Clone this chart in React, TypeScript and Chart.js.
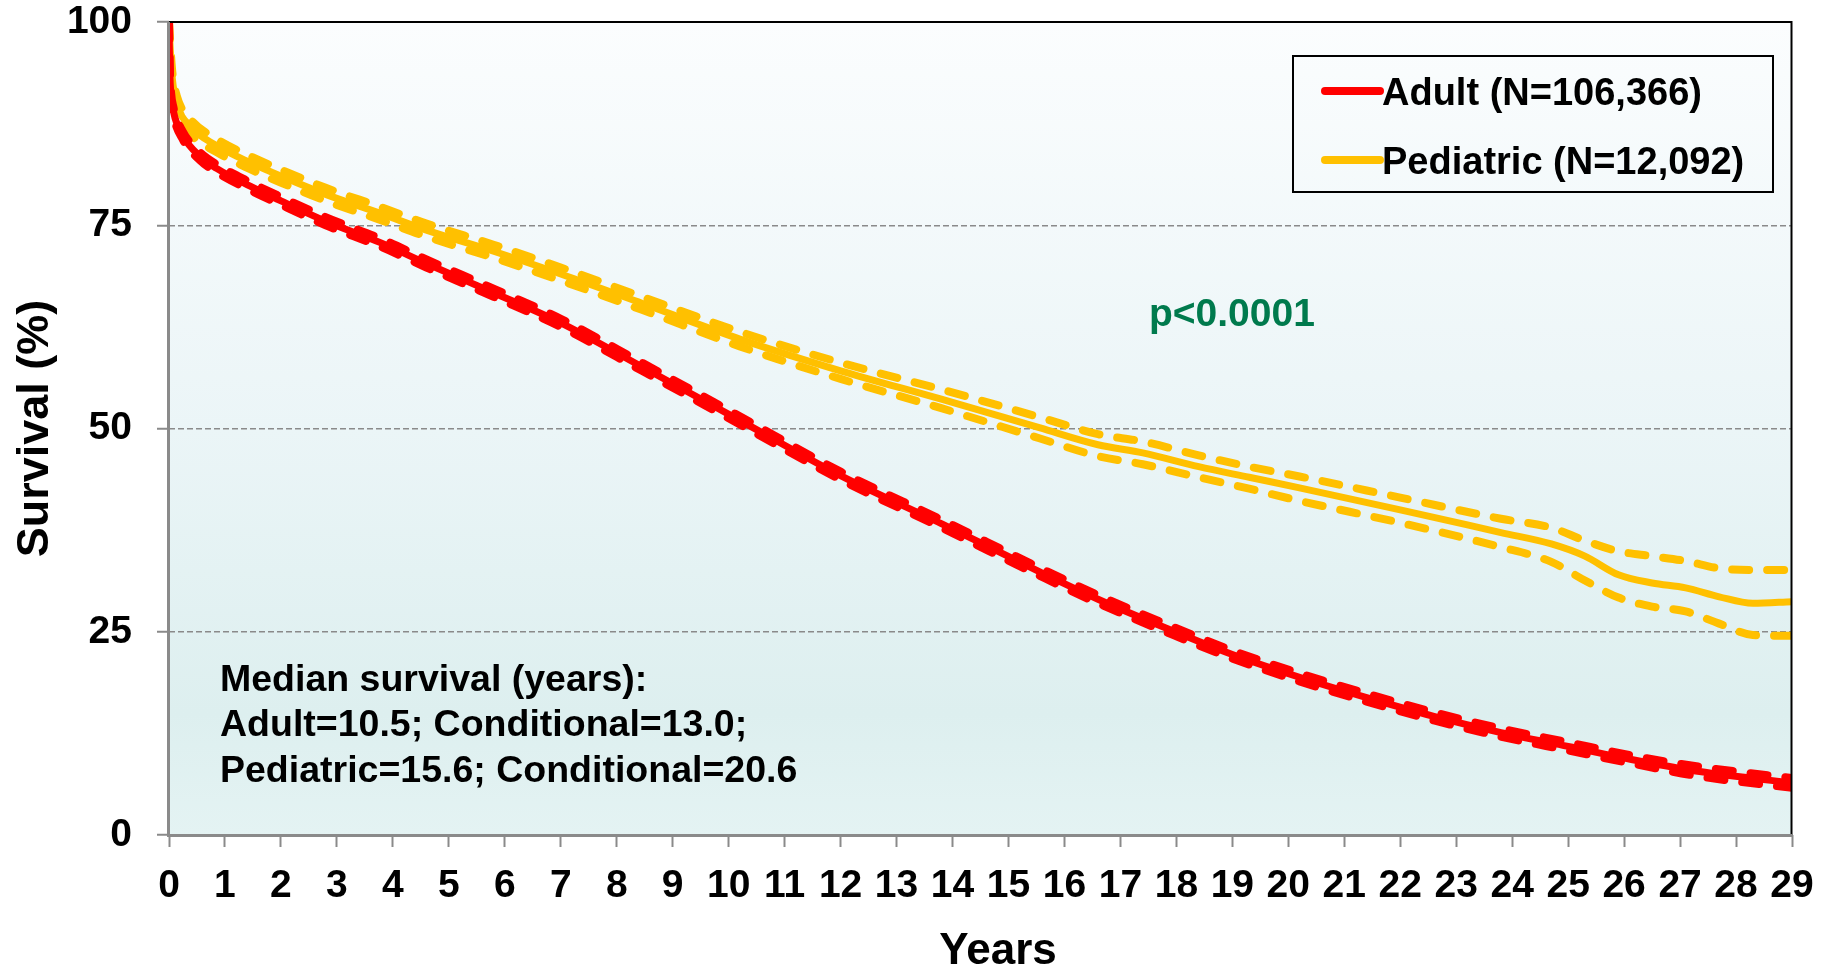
import React, { useEffect, useRef } from "react";
import { Chart, registerables } from "chart.js";

Chart.register(...registerables);

const FONT = "'Liberation Sans', Arial, Helvetica, sans-serif";

// Adult survival estimate and its confidence limits (years -> %)
const adultYears = [0, 0.01, 0.03, 0.08, 0.25, 0.55, 0.85, 1.45, 2.0, 2.8, 3.8, 4.6, 5.8, 7.0, 8.45, 10.2, 12.0, 13.8, 15.55, 16.6, 17.8, 19.0, 20.2, 21.4, 22.6, 23.8, 25.0, 26.2, 27.35, 29];
const adultSurvival = [100, 95, 91.5, 89, 86, 83.5, 82, 79.8, 78, 75.5, 72.8, 70.3, 66.7, 63.0, 57.6, 51.0, 44.2, 38.3, 32.4, 29.0, 25.5, 22.2, 19.4, 16.9, 14.6, 12.6, 10.9, 9.2, 7.8, 6.4];
const adultLower = [100, 94.5, 91.0, 88.5, 85.5, 83.0, 81.5, 79.3, 77.5, 75.0, 72.3, 69.8, 66.2, 62.5, 57.1, 50.5, 43.7, 37.8, 31.9, 28.5, 25.0, 21.7, 18.9, 16.4, 14.1, 12.1, 10.4, 8.7, 7.2, 5.8];
const adultUpper = [100, 95.5, 92.0, 89.5, 86.5, 84.0, 82.5, 80.3, 78.5, 76.0, 73.3, 70.8, 67.2, 63.5, 58.1, 51.5, 44.7, 38.8, 32.9, 29.5, 26.0, 22.7, 19.9, 17.4, 15.1, 13.1, 11.4, 9.7, 8.4, 7.0];

// Pediatric survival estimate and its confidence limits
const pedYears = [0, 0.02, 0.06, 0.14, 0.375, 0.85, 1.45, 2.05, 2.8, 3.8, 4.6, 5.8, 7.0, 8.45, 10.2, 12.0, 13.8, 15.55, 16.6, 17.4, 18.4, 19.3, 20.2, 22.0, 23.8, 24.7, 25.3, 25.9, 26.5, 27.1, 27.7, 28.3, 29];
const pedSurvival = [100, 97, 93, 90, 87.2, 84.8, 82.7, 80.9, 78.8, 76.4, 74.4, 71.8, 69.0, 65.4, 61.0, 57.1, 53.6, 50.1, 48.0, 47.0, 45.3, 44.0, 42.7, 40.0, 37.2, 35.8, 34.3, 32.0, 31.0, 30.4, 29.3, 28.5, 28.7];
const pedUpper = [100, 97.6, 93.8, 90.9, 88.1, 85.6, 83.5, 81.7, 79.6, 77.2, 75.2, 72.6, 69.8, 66.2, 61.9, 58.1, 54.8, 51.4, 49.3, 48.4, 46.7, 45.3, 44.1, 41.5, 38.9, 37.8, 36.2, 34.9, 34.3, 33.7, 32.8, 32.6, 32.6];
const pedLower = [100, 96.4, 92.2, 89.1, 86.3, 84.0, 81.9, 80.1, 78.0, 75.6, 73.6, 71.0, 68.2, 64.6, 60.1, 56.1, 52.5, 48.8, 46.6, 45.6, 44.0, 42.6, 41.1, 38.4, 35.4, 33.6, 31.3, 29.2, 28.1, 27.5, 26.0, 24.6, 24.5];

const seriesLabels = ["Adult (N=106,366)", "Pediatric (N=12,092)"];
const seriesColors = ["#ff0000", "#ffc000"];

const pValueText = "p<0.0001";
const medianLines = [
  "Median survival (years):",
  "Adult=10.5; Conditional=13.0;",
  "Pediatric=15.6; Conditional=20.6",
];
const xAxisTitle = "Years";
const yAxisTitle = "Survival (%)";

const toPoints = (xs: number[], ys: number[]) => xs.map((x, i) => ({ x, y: ys[i] }));

const GRAY = "#8a8a8a";

const framePlugin = {
  id: "frame",
  beforeDraw(chart: any) {
    const { ctx, chartArea: a } = chart;
    const g = ctx.createLinearGradient(0, a.top, 0, a.bottom);
    g.addColorStop(0, "#fbfdfe");
    g.addColorStop(0.5, "#ebf5f7");
    g.addColorStop(0.85, "#ddefef");
    g.addColorStop(1, "#e4f3f3");
    ctx.save();
    ctx.fillStyle = g;
    ctx.fillRect(a.left, a.top, a.right - a.left, a.bottom - a.top);
    ctx.restore();
  },
  afterDraw(chart: any) {
    const { ctx, chartArea: a } = chart;
    ctx.save();
    // plot frame: black top/right, gray left/bottom
    ctx.lineCap = "butt";
    ctx.strokeStyle = "#000";
    ctx.lineWidth = 2;
    ctx.beginPath();
    ctx.moveTo(a.left, a.top);
    ctx.lineTo(a.right - 0.5, a.top);
    ctx.lineTo(a.right - 0.5, a.bottom);
    ctx.stroke();
    ctx.strokeStyle = GRAY;
    ctx.lineWidth = 3;
    ctx.beginPath();
    ctx.moveTo(a.left - 0.5, a.top);
    ctx.lineTo(a.left - 0.5, a.bottom + 0.5);
    ctx.lineTo(a.right, a.bottom + 0.5);
    ctx.stroke();

    // legend box
    const lx = 1293, ly = 56, lw = 480, lh = 136;
    ctx.strokeStyle = "#000";
    ctx.lineWidth = 2;
    ctx.strokeRect(lx, ly, lw, lh);
    ctx.font = `bold 38px ${FONT}`;
    ctx.textBaseline = "alphabetic";
    ctx.textAlign = "left";
    const rowsY = [91, 160];
    seriesLabels.forEach((label, i) => {
      ctx.strokeStyle = seriesColors[i];
      ctx.lineWidth = 8;
      ctx.lineCap = "round";
      ctx.beginPath();
      ctx.moveTo(1325, rowsY[i]);
      ctx.lineTo(1380, rowsY[i]);
      ctx.stroke();
      ctx.fillStyle = "#000";
      ctx.fillText(label, 1382, rowsY[i] + 14);
    });

    // p-value
    ctx.fillStyle = "#007a4d";
    ctx.font = `bold 39px ${FONT}`;
    ctx.fillText(pValueText, 1149, 326);

    // median survival note
    ctx.fillStyle = "#000";
    ctx.font = `bold 37.5px ${FONT}`;
    const baselines = [691, 736, 782];
    medianLines.forEach((t, i) => ctx.fillText(t, 220, baselines[i]));

    // x-axis title
    ctx.font = `bold 44px ${FONT}`;
    ctx.textAlign = "center";
    ctx.fillText(xAxisTitle, 998, 964);
    ctx.restore();
  },
};

export default function App() {
  const ref = useRef<HTMLCanvasElement>(null);

  useEffect(() => {
    document.body.style.margin = "0";
    document.body.style.overflow = "hidden";
    const canvas = ref.current;
    if (!canvas) return;

    const dash = [17, 18];
    const line = (xs: number[], ys: number[], color: string, dashed: boolean, width: number) => ({
      data: toPoints(xs, ys),
      borderColor: color,
      backgroundColor: color,
      borderWidth: width,
      borderDash: dashed ? dash : [],
      borderCapStyle: "round",
      borderJoinStyle: "round",
      pointRadius: 0,
      cubicInterpolationMode: "monotone",
      fill: false,
    });

    const chart = new Chart(canvas, {
      type: "line",
      data: {
        datasets: [
          { label: seriesLabels[0] + " lower", ...line(adultYears, adultLower, seriesColors[0], true, 8) },
          { label: seriesLabels[0] + " upper", ...line(adultYears, adultUpper, seriesColors[0], true, 8) },
          { label: seriesLabels[0], ...line(adultYears, adultSurvival, seriesColors[0], false, 7) },
          { label: seriesLabels[1] + " lower", ...line(pedYears, pedLower, seriesColors[1], true, 8) },
          { label: seriesLabels[1] + " upper", ...line(pedYears, pedUpper, seriesColors[1], true, 8) },
          { label: seriesLabels[1], ...line(pedYears, pedSurvival, seriesColors[1], false, 7) },
        ] as any,
      },
      options: {
        responsive: false,
        animation: false,
        devicePixelRatio: 1,
        events: [],
        layout: { padding: { top: 22, right: 37, left: 0, bottom: 0 } },
        plugins: { legend: { display: false }, tooltip: { enabled: false } },
        scales: {
          x: {
            type: "linear",
            min: 0,
            max: 29,
            ticks: {
              stepSize: 1,
              autoSkip: false,
              maxRotation: 0,
              color: "#000",
              padding: 16,
              font: { family: FONT, size: 39, weight: "bold" },
            },
            grid: {
              drawOnChartArea: false,
              drawTicks: true,
              tickLength: 12,
              tickColor: GRAY,
              tickWidth: 2,
            },
            border: { display: false },
            afterFit: (s: any) => {
              s.height = 133;
              s.paddingLeft = 0;
              s.paddingRight = 0;
            },
          },
          y: {
            type: "linear",
            min: 0,
            max: 100,
            ticks: {
              stepSize: 25,
              color: "#000",
              padding: 25,
              font: { family: FONT, size: 39, weight: "bold" },
            },
            grid: {
              color: (c: any) =>
                c.tick && c.tick.value > 0 && c.tick.value < 100 ? GRAY : "rgba(0,0,0,0)",
              lineWidth: 1.5,
              drawTicks: true,
              tickLength: 12,
              tickColor: GRAY,
              tickWidth: 2,
              tickBorderDash: [],
            },
            border: { display: false, dash: [6, 3] },
            title: {
              display: true,
              text: yAxisTitle,
              color: "#000",
              font: { family: FONT, size: 45, weight: "bold", lineHeight: 1 },
              padding: { top: 13, bottom: 0 },
            },
            afterFit: (s: any) => {
              s.width = 169;
              s.paddingTop = 0;
              s.paddingBottom = 0;
            },
          },
        },
      } as any,
      plugins: [framePlugin],
    });

    return () => chart.destroy();
  }, []);

  return (
    <div style={{ width: 1829, height: 968 }}>
      <canvas ref={ref} width={1829} height={968} style={{ display: "block" }} />
    </div>
  );
}
